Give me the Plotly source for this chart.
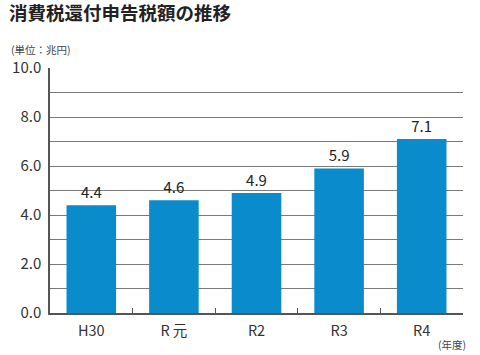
import plotly.graph_objects as go

categories = ["H30", "R 元", "R2", "R3", "R4"]
values = [4.4, 4.6, 4.9, 5.9, 7.1]
value_labels = ["4.4", "4.6", "4.9", "5.9", "7.1"]
ytick_vals = [0, 1, 2, 3, 4, 5, 6, 7, 8, 9, 10]
ytick_text = ["0.0", "", "2.0", "", "4.0", "", "6.0", "", "8.0", "", "10.0"]

FONT = "Noto Sans CJK JP"

fig = go.Figure(go.Bar(
    x=categories, y=values, text=value_labels, textposition="outside",
    textfont=dict(size=15, color="#222", family=FONT),
    marker=dict(color="#0a8bcc", line=dict(width=0)),
    width=0.6, cliponaxis=False,
))

fig.update_layout(
    width=480, height=355,
    margin=dict(l=50, r=17, t=68, b=42),
    paper_bgcolor="white", plot_bgcolor="white",
    font=dict(family=FONT, color="#222"),
    showlegend=False,
    xaxis=dict(
        tickson="boundaries", ticks="inside", ticklen=5, tickcolor="#555",
        showline=True, linecolor="#555", linewidth=1.5,
        tickfont=dict(size=14.5, color="#333"), showgrid=False,
        ticklabelstandoff=4,
    ),
    yaxis=dict(
        range=[0, 10], tickvals=ytick_vals, ticktext=ytick_text,
        showgrid=True, gridcolor="#7a7a7a", gridwidth=1.3,
        showline=True, linecolor="#555", linewidth=1.5,
        tickfont=dict(size=15, color="#333"), ticks="", ticklabelstandoff=4,
        zeroline=False,
    ),
)

fig.add_annotation(text="<b>消費税還付申告税額の推移</b>", xref="paper", yref="paper",
                   x=-0.105, y=1.229, xanchor="left", yanchor="middle", showarrow=False,
                   font=dict(size=18.5, color="#222", family=FONT))
fig.add_annotation(text="(単位：兆円)", xref="paper", yref="paper",
                   x=-0.1, y=1.075, xanchor="left", yanchor="middle", showarrow=False,
                   font=dict(size=10.5, color="#444", family=FONT))
fig.add_annotation(text="(年度)", xref="paper", yref="paper",
                   x=1.012, y=-0.13, xanchor="right", yanchor="middle", showarrow=False,
                   font=dict(size=10.5, color="#444", family=FONT))

fig.write_html("out.html", config={"displayModeBar": False},
               post_script="document.body.style.margin='0';")
